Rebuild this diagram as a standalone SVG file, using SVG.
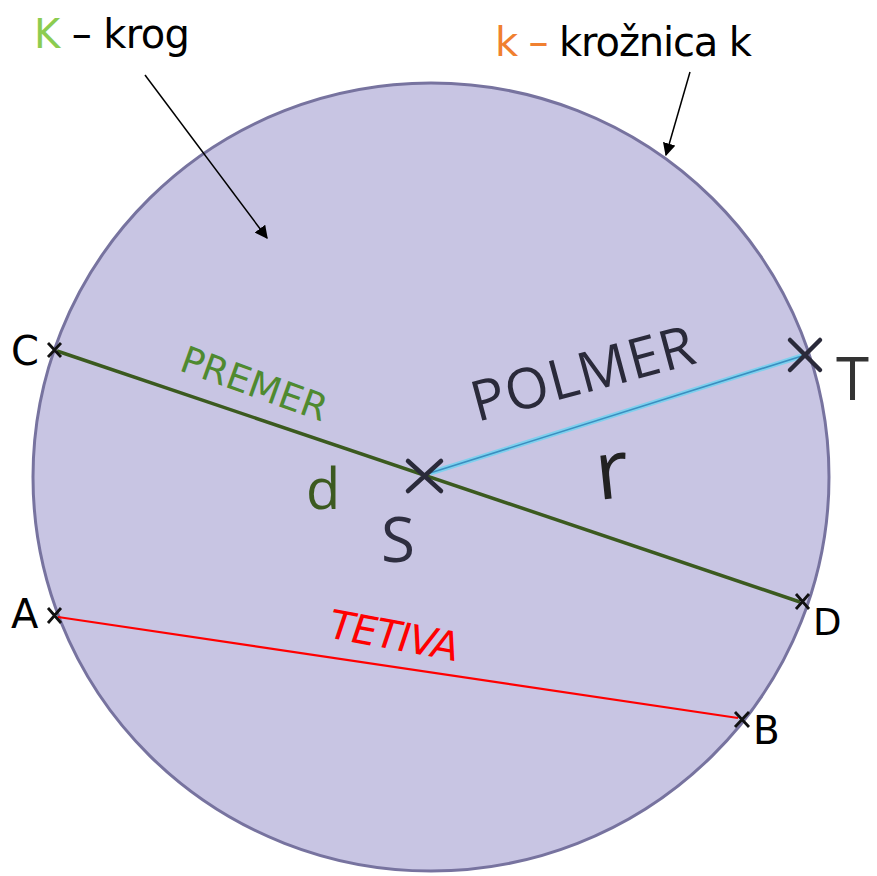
<svg xmlns="http://www.w3.org/2000/svg" width="877" height="876" viewBox="0 0 877 876">
<defs>
<style>
.lbl{font-family:"DejaVu Sans","Liberation Sans",sans-serif;}
.os{font-family:"Open Sans","DejaVu Sans",sans-serif;}
.xs{stroke:#111;stroke-width:2.8;fill:none;}
.xb{stroke:#2a2a3a;stroke-width:4.5;fill:none;stroke-linecap:round;}
.arr{stroke:#000;stroke-width:1.5;fill:none;}
</style>
<marker id="ah" viewBox="0 0 10 10" refX="9" refY="5" markerWidth="13" markerHeight="13" markerUnits="userSpaceOnUse" orient="auto">
<path d="M0,0 L10,5 L0,10 z" fill="#000"/>
</marker>
</defs>
<rect width="877" height="876" fill="#fff"/>
<g id="circle">
<ellipse cx="431" cy="477" rx="398" ry="394" fill="#c8c5e3" stroke="#77739f" stroke-width="3"/>
</g>
<g id="connectors">
<line x1="57" y1="351" x2="800" y2="602" stroke="#3b5a1f" stroke-width="3.5"/>
<line x1="58" y1="617" x2="738" y2="718" stroke="#ff0000" stroke-width="2.2"/>
<line x1="430" y1="473" x2="802" y2="356" stroke="#7fd0ee" stroke-width="5"/>
<line x1="430" y1="473" x2="802" y2="356" stroke="#3a8fc0" stroke-width="1.6"/>
<line class="arr" x1="145" y1="75" x2="267" y2="238" marker-end="url(#ah)"/>
<line class="arr" x1="690" y1="72" x2="666" y2="155" marker-end="url(#ah)"/>
</g>
<g id="title-K">
<text class="lbl" x="34" y="48" font-size="40" textLength="156"><tspan fill="#8ccc50">K</tspan><tspan fill="#000"> – krog</tspan></text>
</g>
<g id="title-k">
<text class="lbl" x="495" y="56" font-size="40" textLength="257"><tspan fill="#f08030">k – </tspan><tspan fill="#000">krožnica k</tspan></text>
</g>
<g id="point-C">
<path class="xs" d="M48,343 L61,357 M61,343 L48,357"/>
<text class="lbl" x="11" y="365" font-size="40" fill="#000">C</text>
</g>
<g id="point-T">
<path class="xb" d="M790,340 L820,370 M820,340 L790,370"/>
<text class="os" x="836" y="400" font-size="60" fill="#333">T</text>
</g>
<g id="point-S">
<path class="xb" d="M408,461 L441,491 M441,461 L408,491"/>
<text class="os" x="381" y="562" font-size="62" fill="#2e2e40">S</text>
</g>
<g id="point-D">
<path class="xs" d="M796,594 L809,609 M809,594 L796,609"/>
<text class="lbl" x="813" y="635" font-size="37" fill="#000">D</text>
</g>
<g id="point-A">
<path class="xs" d="M48,608 L61,623 M61,608 L48,623"/>
<text class="lbl" x="11" y="628" font-size="40" fill="#000">A</text>
</g>
<g id="point-B">
<path class="xs" d="M735,712 L749,727 M749,712 L735,727"/>
<text class="lbl" x="753" y="744" font-size="39" fill="#000">B</text>
</g>
<g id="label-premer">
<text class="lbl" transform="translate(178,370) rotate(19.8)" font-size="37" fill="#4f8a30" textLength="153">PREMER</text>
<text class="os" x="306" y="509" font-size="56" fill="#3c5a20">d</text>
</g>
<g id="label-polmer">
<text class="os" transform="translate(477,422) rotate(-15)" font-size="56" font-weight="500" fill="#2a2a3a" textLength="229">POLMER</text>
<text class="os" transform="translate(598,500) rotate(-6)" font-size="82" fill="#222">r</text>
</g>
<g id="label-tetiva">
<text class="lbl" transform="translate(325,637) rotate(10.5) skewX(-8)" font-size="40" fill="#ff0000" textLength="132">TETIVA</text>
</g>
</svg>
